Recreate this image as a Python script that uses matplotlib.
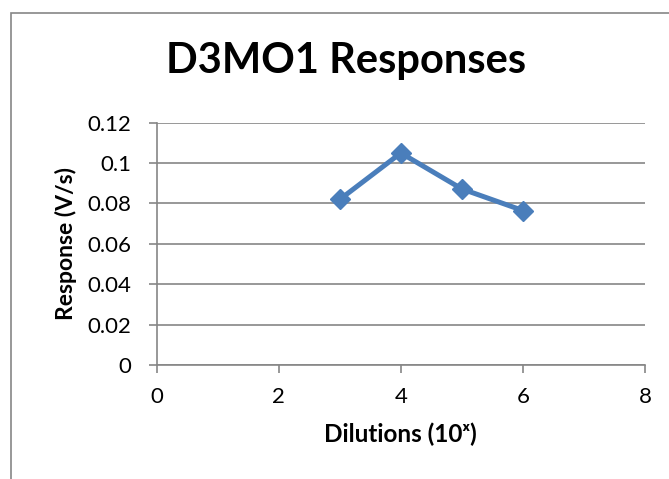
import matplotlib
matplotlib.use("Agg")
import matplotlib.pyplot as plt
from matplotlib.patches import Rectangle

# data
dilutions = [3, 4, 5, 6]
responses = [0.082, 0.105, 0.0872, 0.0765]

x_ticks = [0, 2, 4, 6, 8]
y_ticks = [0, 0.02, 0.04, 0.06, 0.08, 0.1, 0.12]
y_tick_labels = ["0", "0.02", "0.04", "0.06", "0.08", "0.1", "0.12"]

plt.rcParams['font.family'] = ['Lato', 'DejaVu Sans']

grey = '#868686'
blue = '#4A7EBB'

fig = plt.figure(figsize=(6.69, 4.79), dpi=100)
ax = fig.add_axes([156.7 / 669, 1 - 365 / 479, (645 - 156.7) / 669, (365 - 122.7) / 479])

# chart area border (cut off on right and bottom like the reference)
fig.patches.append(Rectangle((11 / 669, -0.1), 1.2, (479 - 13) / 479 + 0.1,
                             transform=fig.transFigure, fill=False,
                             edgecolor=grey, linewidth=1.2))

ax.plot(dilutions, responses, color=blue, linewidth=3.6, marker='D',
        markersize=10, markerfacecolor=blue, markeredgecolor=blue, zorder=3)

ax.set_xlim(0, 8)
ax.set_ylim(0, 0.12)
ax.set_xticks(x_ticks)
ax.set_yticks(y_ticks)
ax.set_yticklabels(y_tick_labels)

ax.grid(axis='y', color=grey, linewidth=1.2)
ax.set_axisbelow(True)
for side in ['top', 'right']:
    ax.spines[side].set_visible(False)
for side in ['left', 'bottom']:
    ax.spines[side].set_color(grey)
    ax.spines[side].set_linewidth(1.2)
ax.tick_params(axis='both', colors=grey, length=6, width=1.2, labelsize=16,
               labelcolor='black')
ax.tick_params(axis='y', pad=12)
ax.tick_params(axis='x', pad=10)

ax.set_xlabel('Dilutions (10ˣ)', fontsize=17.5, fontweight='bold', labelpad=11)
ax.set_ylabel('Response (V/s)', fontsize=16.5, fontweight='bold', labelpad=8)
fig.text(346 / 669, 1 - 73 / 479, 'D3MO1 Responses', fontsize=30, fontweight='bold',
         ha='center', va='baseline')

fig.savefig('out.png', dpi=100)
